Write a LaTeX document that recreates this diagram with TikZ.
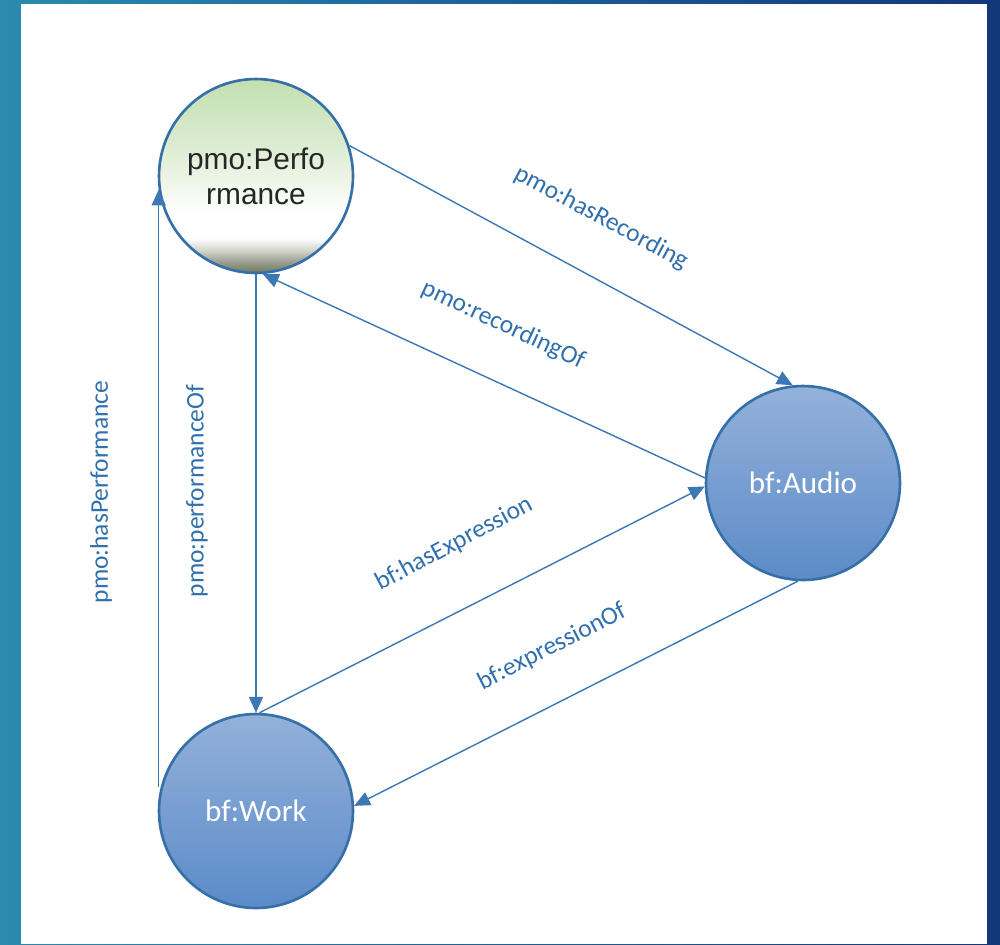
\documentclass[tikz,border=0pt]{standalone}
\usepackage{fontspec}
\setmainfont{Carlito}
\newfontfamily\arialfont{Liberation Sans}
\usepackage{xcolor}
\usepackage{tikz}
\usetikzlibrary{positioning, calc, shapes, arrows.meta}

\definecolor{bgteal}{HTML}{2A8BAE}
\definecolor{bgnavy}{HTML}{12377A}
\definecolor{edgeblue}{HTML}{3B78B4}
\definecolor{labelblue}{HTML}{3070AE}
\definecolor{rimblue}{HTML}{3570A8}
\definecolor{topblue}{HTML}{93B1DA}
\definecolor{botblue}{HTML}{5C8BC8}
\definecolor{perfdark}{HTML}{68785A}
\definecolor{perfmid}{HTML}{9DA192}
\definecolor{perfgray}{HTML}{D6D6D0}
\definecolor{perflight}{HTML}{DDEDD4}
\definecolor{perfgreen}{HTML}{C2DFB0}

\pgfdeclareverticalshading{perfshade}{100bp}{color(0bp)=(perfdark); color(25bp)=(perfdark); color(28bp)=(perfmid); color(31bp)=(perfgray); color(34bp)=(white); color(40bp)=(white); color(57bp)=(perflight); color(75bp)=(perfgreen); color(100bp)=(perfgreen)}

\begin{document}
\begin{tikzpicture}[x=0.02cm, y=-0.02cm]
		\tikzstyle{classnode}=[circle, draw=rimblue, line width=1.5pt, minimum size=3.88cm, inner sep=0pt, top color=topblue, bottom color=botblue, text=white, font=\fontsize{17.7}{20}\selectfont]
		\tikzstyle{perfnode}=[classnode, shading=perfshade, text=black!85, align=center, font=\arialfont\fontsize{17}{20}\selectfont]
		\tikzstyle{link}=[draw=edgeblue, line width=0.8pt, -{Triangle[length=9pt, width=8pt]}]
		\tikzstyle{rel}=[text=labelblue, inner sep=0pt, font=\fontsize{14.5}{17}\selectfont]
		
		% background
		\shade[left color=bgteal, right color=bgnavy] (0,0) rectangle (1000,944);
		\fill[white] (21,4) rectangle (987,944);
		
		\node (perf) at (256,176) [perfnode] {pmo:Perfo\\rmance};
		\node (audio) at (803,483) [classnode] {bf:Audio};
		\node (work) at (256,811) [classnode] {bf:Work};
		
		\draw[link] (perf.18) -- (audio.96);
		\draw[link] (audio.177) -- (perf.-86);
		\draw[link] (perf.south) -- (work.north);
		\draw[link] (perf.188 |- work.166) -- (perf.188);
		\draw[link] (work.88) -- (audio.182);
		\draw[link] (audio.-93) -- (work.3);
		
		\node (lhasrec) at (601,218) [rel, rotate=-28] {pmo:hasRecording};
		\node (lrecof) at (503,325) [rel, rotate=-25] {pmo:recordingOf};
		\node (lhasperf) at (101,492) [rel, rotate=90] {pmo:hasPerformance};
		\node (lperfof) at (197,491) [rel, rotate=90] {pmo:performanceOf};
		\node (lhasexp) at (454,544) [rel, rotate=28] {bf:hasExpression};
		\node (lexpof) at (552,647) [rel, rotate=27] {bf:expressionOf};
		
		\end{tikzpicture}
\end{document}
